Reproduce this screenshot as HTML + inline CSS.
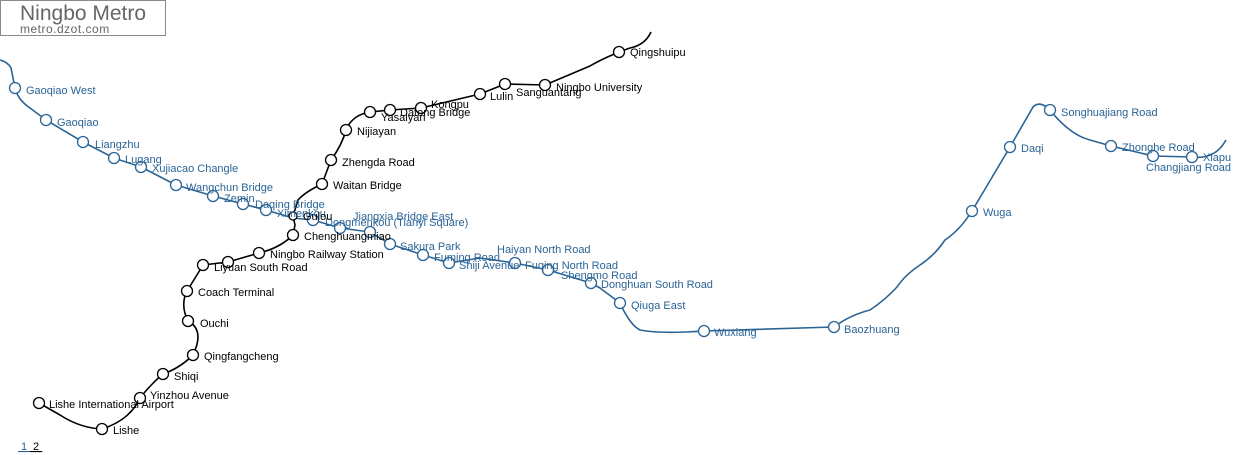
<!DOCTYPE html>
<html><head><meta charset="utf-8"><style>
html,body{margin:0;padding:0;background:#fff;}
svg{display:block;}
text{font-family:"Liberation Sans",Arial,sans-serif;font-size:11px;}
.b text{fill:#2a6496;}
.k text{fill:#000;}
</style></head><body>
<svg width="1237" height="455" viewBox="0 0 1237 455" xmlns="http://www.w3.org/2000/svg">
<rect x="0.5" y="0.5" width="165" height="35" fill="#fff" stroke="#888"/>
<text x="20" y="20" style="font-size:21px;fill:#666">Ningbo Metro</text>
<text x="20" y="33" style="font-size:12px;fill:#666;letter-spacing:0.5px">metro.dzot.com</text>

<path fill="none" stroke="#2a6496" stroke-width="1.6" stroke-linejoin="round" d="M0,60 Q8,62 11,68 L15,88 Q18,100 30,108 L46,120 L83,142 L114,158 L141,167 L176,185 L213,196 L243,204 L266,210 L293,218 L313,220 L340,228 L370,232 L390,244 L423,255 L449,263 L480,258 L515,263 L548,270 L591,283 L600,288 L620,303 Q630,325 640,330 Q660,334 704,331 L834,327 Q850,315 870,310 Q885,300 897,287 Q905,275 920,265 Q935,255 945,240 Q960,230 972,211 L1010,147 L1033,107 Q1040,100 1050,110 Q1070,135 1090,140 L1111,146 L1153,156 L1192,157 Q1215,160 1226,140"/>
<path fill="none" stroke="#000" stroke-width="1.6" stroke-linejoin="round" d="M651,32 Q645,45 630,48 L619,52 Q600,60 590,66 L545,85 L505,84 L480,94 L421,108 L390,110 L370,112 Q352,115 346,130 Q342,145 331,160 L322,184 Q305,192 298,200 L293,216 L295,225 L293,235 Q280,248 259,253 L228,262 L203,265 Q197,275 187,291 Q180,305 188,321 Q205,330 193,355 Q180,368 163,374 Q150,385 140,398 Q130,420 102,429 Q80,428 60,415 L39,403"/>

<g fill="#fff" stroke="#2a6496" stroke-width="1.3">
<circle cx="15" cy="88" r="5.5"/><circle cx="46" cy="120" r="5.5"/><circle cx="83" cy="142" r="5.5"/><circle cx="114" cy="158" r="5.5"/><circle cx="141" cy="167" r="5.5"/><circle cx="176" cy="185" r="5.5"/><circle cx="213" cy="196" r="5.5"/><circle cx="243" cy="204" r="5.5"/><circle cx="266" cy="210" r="5.5"/><circle cx="313" cy="220" r="5.5"/><circle cx="340" cy="228" r="5.5"/><circle cx="370" cy="232" r="5.5"/><circle cx="390" cy="244" r="5.5"/><circle cx="423" cy="255" r="5.5"/><circle cx="449" cy="263" r="5.5"/><circle cx="515" cy="263" r="5.5"/><circle cx="548" cy="270" r="5.5"/><circle cx="591" cy="283" r="5.5"/><circle cx="620" cy="303" r="5.5"/><circle cx="704" cy="331" r="5.5"/><circle cx="834" cy="327" r="5.5"/><circle cx="972" cy="211" r="5.5"/><circle cx="1010" cy="147" r="5.5"/><circle cx="1050" cy="110" r="5.5"/><circle cx="1111" cy="146" r="5.5"/><circle cx="1153" cy="156" r="5.5"/><circle cx="1192" cy="157" r="5.5"/>
</g>
<g fill="#fff" stroke="#000" stroke-width="1.3">
<circle cx="619" cy="52" r="5.5"/><circle cx="545" cy="85" r="5.5"/><circle cx="505" cy="84" r="5.5"/><circle cx="480" cy="94" r="5.5"/><circle cx="421" cy="108" r="5.5"/><circle cx="390" cy="110" r="5.5"/><circle cx="370" cy="112" r="5.5"/><circle cx="346" cy="130" r="5.5"/><circle cx="331" cy="160" r="5.5"/><circle cx="322" cy="184" r="5.5"/><circle cx="293" cy="216" r="4"/><circle cx="293" cy="235" r="5.5"/><circle cx="259" cy="253" r="5.5"/><circle cx="228" cy="262" r="5.5"/><circle cx="203" cy="265" r="5.5"/><circle cx="187" cy="291" r="5.5"/><circle cx="188" cy="321" r="5.5"/><circle cx="193" cy="355" r="5.5"/><circle cx="163" cy="374" r="5.5"/><circle cx="140" cy="398" r="5.5"/><circle cx="102" cy="429" r="5.5"/><circle cx="39" cy="403" r="5.5"/>
</g>

<g class="b">
<text x="26" y="94">Gaoqiao West</text><text x="57" y="126">Gaoqiao</text><text x="95" y="148">Liangzhu</text><text x="125" y="163">Lugang</text><text x="152" y="172">Xujiacao Changle</text><text x="186" y="191">Wangchun Bridge</text><text x="224" y="202">Zemin</text><text x="255" y="208">Daqing Bridge</text><text x="277" y="217">Ximenkou</text><text x="353" y="220">Jiangxia Bridge East</text><text x="325" y="226">Dongmenkou (Tianyi Square)</text><text x="400" y="250">Sakura Park</text><text x="434" y="261">Fuming Road</text><text x="459" y="269">Shiji Avenue</text><text x="497" y="253">Haiyan North Road</text><text x="525" y="269">Fuqing North Road</text><text x="561" y="279">Shengmo Road</text><text x="601" y="288">Donghuan South Road</text><text x="631" y="309">Qiuga East</text><text x="714" y="336">Wuxiang</text><text x="844" y="333">Baozhuang</text><text x="983" y="216">Wuga</text><text x="1021" y="152">Daqi</text><text x="1061" y="116">Songhuajiang Road</text><text x="1122" y="151">Zhonghe Road</text><text x="1146" y="171">Changjiang Road</text><text x="1203" y="161">Xiapu</text>
</g>
<g class="k">
<text x="630" y="56">Qingshuipu</text><text x="556" y="91">Ningbo University</text><text x="516" y="96">Sanguantang</text><text x="490" y="100">Lulin</text><text x="431" y="108">Kongpu</text><text x="400" y="116">Datong Bridge</text><text x="381" y="121">Yasaiyan</text><text x="357" y="135">Nijiayan</text><text x="342" y="166">Zhengda Road</text><text x="333" y="189">Waitan Bridge</text><text x="303" y="220">Gulou</text><text x="304" y="240">Chenghuangmiao</text><text x="270" y="258">Ningbo Railway Station</text><text x="214" y="271">Liyuan South Road</text><text x="198" y="296">Coach Terminal</text><text x="200" y="327">Ouchi</text><text x="204" y="360">Qingfangcheng</text><text x="174" y="380">Shiqi</text><text x="150" y="399">Yinzhou Avenue</text><text x="49" y="408">Lishe International Airport</text><text x="113" y="434">Lishe</text>
</g>
<text x="18" y="450" style="fill:#2a6496;text-decoration:underline">&#160;1&#160;</text>
<text x="30" y="450" style="fill:#000;text-decoration:underline">&#160;2&#160;</text>
</svg>
</body></html>
